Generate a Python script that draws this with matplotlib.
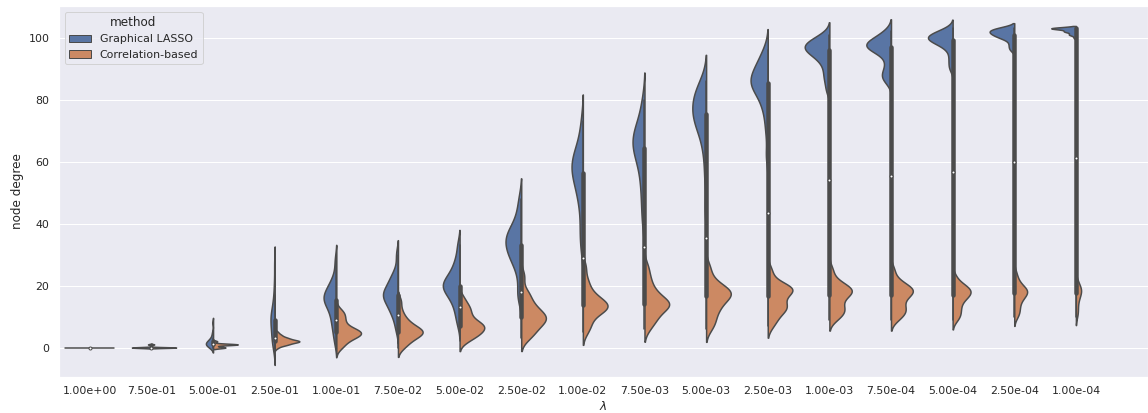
import numpy as np
import matplotlib
matplotlib.use("Agg")
import matplotlib.pyplot as plt
import seaborn as sns
from matplotlib.patches import Patch

# node degree per regularisation strength, one list of nodes per lambda
lambdas = ["1.00e+00", "7.50e-01", "5.00e-01", "2.50e-01", "1.00e-01",
           "7.50e-02", "5.00e-02", "2.50e-02", "1.00e-02", "7.50e-03",
           "5.00e-03", "2.50e-03", "1.00e-03", "7.50e-04", "5.00e-04",
           "2.50e-04", "1.00e-04"]
methods = ["Graphical LASSO", "Correlation-based"]

glasso_deg = [
    [0, 0, 0, 0, 0, 0, 0, 0, 0, 0, 0, 0, 0, 0, 0, 0, 0, 0, 0, 0],
    [0, 0, 0, 0, 0, 0, 0, 0, 0, 0, 0, 0, 0, 0, 0, 0, 0, 1, 1, 1],
    [0, 0, 1, 1, 1, 1, 1, 1, 2, 2, 2, 2, 3, 3, 4, 5, 1, 0, 2, 8],
    [0, 1, 2, 3, 4, 5, 6, 7, 8, 9, 9, 10, 10, 11, 12, 13, 15, 17, 21, 27],
    [2, 5, 7, 9, 10, 12, 13, 14, 15, 15, 16, 16, 17, 17, 18, 19, 20, 21, 23, 28],
    [6, 9, 11, 12, 13, 14, 15, 16, 16, 17, 17, 18, 18, 19, 20, 21, 22, 23, 25, 30],
    [8, 11, 13, 15, 16, 17, 18, 19, 19, 20, 20, 21, 21, 22, 23, 24, 25, 27, 29, 33],
    [16, 18, 23, 26, 28, 29, 30, 31, 32, 33, 34, 35, 35, 36, 37, 38, 39, 41, 44, 48],
    [32, 36, 40, 45, 48, 50, 52, 54, 55, 56, 57, 58, 59, 60, 61, 62, 63, 65, 68, 73],
    [39, 44, 48, 52, 55, 58, 60, 62, 63, 64, 65, 66, 67, 68, 69, 70, 71, 73, 76, 80],
    [45, 55, 62, 66, 69, 71, 72, 73, 74, 75, 76, 77, 78, 79, 80, 81, 82, 83, 85, 86],
    [62, 70, 75, 78, 80, 82, 83, 84, 85, 85, 86, 86, 87, 88, 89, 90, 91, 92, 94, 96],
    [83, 86, 88, 90, 92, 93, 94, 95, 95, 96, 96, 97, 97, 97, 98, 98, 99, 99, 100, 101],
    [86, 87, 88, 89, 91, 93, 95, 96, 96, 97, 97, 97, 98, 98, 98, 99, 99, 100, 101, 102],
    [90, 92, 94, 96, 97, 98, 98, 99, 99, 99, 100, 100, 100, 100, 101, 101, 101, 102, 102, 103],
    [96, 97, 98, 99, 100, 100, 100, 101, 101, 101, 101, 102, 102, 102, 102, 102, 103, 103, 103, 103],
    [100, 101, 101, 101, 102, 102, 102, 102, 102, 103, 103, 103, 103, 103, 103, 103, 103, 103, 103, 103],
]

corr_deg = [
    [0, 0, 0, 0, 0, 0, 0, 0, 0, 0, 0, 0, 0, 0, 0, 0, 0, 0, 0, 0],
    [0, 0, 0, 0, 0, 0, 0, 0, 0, 0, 0, 0, 0, 0, 0, 0, 0, 0, 1, 1],
    [0, 0, 0, 0, 0, 0, 1, 1, 1, 1, 1, 1, 1, 1, 1, 1, 1, 1, 2, 2],
    [0, 1, 1, 1, 2, 2, 2, 2, 2, 2, 2, 2, 3, 3, 3, 3, 4, 4, 5, 1],
    [0, 1, 2, 3, 3, 4, 4, 4, 5, 5, 5, 5, 6, 6, 7, 8, 9, 10, 11, 12],
    [0, 1, 2, 3, 3, 4, 4, 5, 5, 5, 5, 6, 6, 7, 7, 8, 9, 10, 12, 15],
    [2, 3, 4, 4, 5, 5, 6, 6, 7, 7, 7, 8, 8, 9, 10, 11, 12, 13, 14, 16],
    [3, 4, 5, 6, 7, 8, 8, 9, 9, 10, 10, 11, 11, 12, 13, 14, 15, 17, 18, 23],
    [5, 7, 8, 10, 11, 12, 12, 13, 13, 13, 14, 14, 15, 15, 16, 17, 18, 20, 22, 26],
    [6, 8, 9, 10, 11, 12, 13, 13, 14, 14, 14, 15, 15, 16, 17, 18, 19, 21, 23, 26],
    [6, 8, 9, 11, 12, 13, 14, 15, 16, 16, 17, 17, 18, 18, 19, 19, 20, 21, 23, 26],
    [7, 9, 10, 12, 12, 13, 13, 14, 15, 16, 17, 18, 18, 19, 19, 19, 20, 20, 22, 25],
    [9, 10, 11, 12, 12, 13, 14, 15, 16, 17, 17, 18, 18, 19, 19, 19, 20, 21, 22, 25],
    [9, 10, 11, 12, 12, 13, 14, 15, 16, 17, 17, 18, 18, 19, 19, 19, 20, 21, 22, 25],
    [9, 10, 11, 12, 13, 14, 15, 16, 16, 17, 17, 18, 18, 18, 19, 19, 20, 20, 21, 23],
    [10, 11, 12, 13, 14, 15, 16, 16, 17, 17, 18, 18, 18, 19, 19, 19, 20, 21, 22, 24],
    [10, 11, 12, 13, 14, 15, 16, 16, 17, 17, 18, 18, 18, 19, 19, 19, 20, 20, 21, 22],
]


def kde(values, bw_adjust=0.75, cut=2, gridsize=100):
    # gaussian kde with scott's bandwidth, support cut 2 bw past the data
    x = np.asarray(values, dtype=float)
    bw = len(x) ** (-1 / 5) * x.std(ddof=1) * bw_adjust
    support = np.linspace(x.min() - cut * bw, x.max() + cut * bw, gridsize)
    z = (support[:, None] - x[None, :]) / bw
    dens = np.exp(-0.5 * z ** 2).sum(axis=1) / (len(x) * bw * np.sqrt(2 * np.pi))
    return support, dens


sns.set_theme(style="darkgrid")
colors = [sns.desaturate(c, 0.75) for c in sns.color_palette("deep", 2)]
gray = "#4b4b4b"
lw = 1.5
half = 0.4

fig = plt.figure(figsize=(1148 / 72, 413 / 72), dpi=72)
ax = fig.add_axes([59 / 1148, 36 / 413, 1089 / 1148, 371 / 413])

for i, (g, c) in enumerate(zip(glasso_deg, corr_deg)):
    halves = [kde(v) if np.ptp(v) > 0 else None for v in (g, c)]
    if all(h is None for h in halves):
        ax.plot([i - half, i + half], [g[0], g[0]], color=gray, lw=lw)
    else:
        peak = max(h[1].max() for h in halves if h is not None)
        for side, h, col in zip((-1, 1), halves, colors):
            support, dens = h
            ax.fill_betweenx(support, i, i + side * dens / peak * half,
                             facecolor=col, edgecolor=gray, lw=lw)

    # box of both methods pooled
    data = np.concatenate([g, c]).astype(float)
    q25, q50, q75 = np.percentile(data, [25, 50, 75])
    lim = 1.5 * (q75 - q25)
    h1 = data[data >= q25 - lim].min()
    h2 = data[data <= q75 + lim].max()
    ax.plot([i, i], [h1, h2], color=gray, lw=lw)
    ax.plot([i, i], [q25, q75], color=gray, lw=lw * 3)
    ax.scatter(i, q50, zorder=3, color="white", edgecolor=gray, s=(lw * 2) ** 2)

ax.set_xticks(range(len(lambdas)))
ax.set_xticklabels(lambdas)
ax.xaxis.grid(False)
ax.set_xlim(-0.5, 17.17)
ax.set_ylim(-9.5, 110.2)
ax.set_xlabel(r"$\lambda$")
ax.set_ylabel("node degree")

handles = [Patch(facecolor=col, edgecolor=gray, label=m) for col, m in zip(colors, methods)]
ax.legend(handles=handles, title="method", loc="upper left")

fig.savefig("out.png", dpi=72)
